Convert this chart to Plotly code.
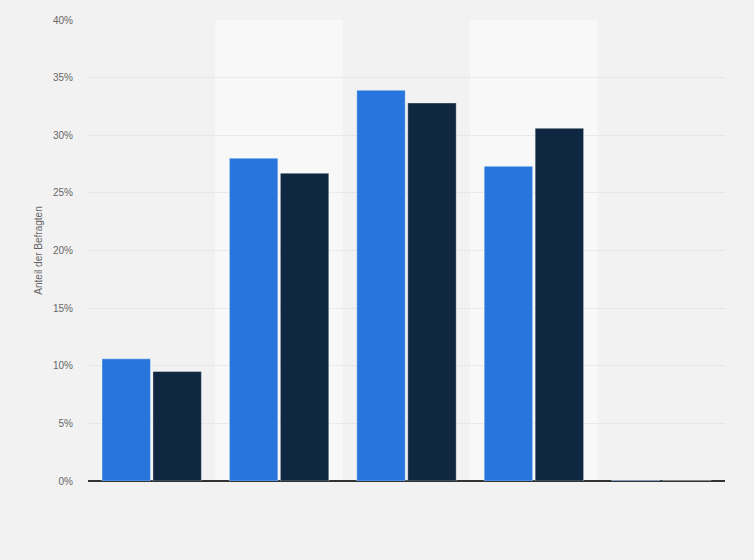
import plotly.graph_objects as go

# Kategorien (keine sichtbaren Beschriftungen im Original)
categories = ["A", "B", "C", "D", "E"]
series_1 = [10.6, 28.0, 33.9, 27.3, 0.05]
series_2 = [9.5, 26.7, 32.8, 30.6, 0.05]
y_ticks = [0, 5, 10, 15, 20, 25, 30, 35, 40]
y_tick_labels = [f"{v}%" for v in y_ticks]

fig = go.Figure()
fig.add_trace(go.Bar(
    x=categories, y=series_1, name="Serie 1",
    marker={"color": "#2876dd", "line": {"color": "rgba(255,255,255,0.35)", "width": 1}},
))
fig.add_trace(go.Bar(
    x=categories, y=series_2, name="Serie 2",
    marker={"color": "#0f2741", "line": {"color": "rgba(255,255,255,0.35)", "width": 1}},
))

# helle Hintergrundstreifen für jede zweite Kategorie
for i in (1, 3):
    fig.add_shape(
        type="rect", xref="x", yref="paper",
        x0=i - 0.5, x1=i + 0.5, y0=0, y1=1,
        fillcolor="#f8f8f8", line={"width": 0}, layer="below",
    )

fig.update_layout(
    width=754,
    height=560,
    margin={"l": 88, "r": 29, "t": 20, "b": 79},
    paper_bgcolor="#f2f2f2",
    plot_bgcolor="#f2f2f2",
    barmode="group",
    bargap=0.2,
    bargroupgap=0.05,
    showlegend=False,
    font={"family": "Arial, Liberation Sans, sans-serif", "size": 10, "color": "#666666"},
    xaxis={
        "showticklabels": False,
        "showgrid": False,
        "zeroline": False,
        "showline": False,
        "ticks": "",
    },
    yaxis={
        "range": [0, 40],
        "tickvals": y_ticks,
        "ticktext": y_tick_labels,
        "showgrid": True,
        "gridcolor": "#dcdcdc",
        "griddash": "1px,1px",
        "gridwidth": 1,
        "zeroline": True,
        "zerolinecolor": "#333333",
        "zerolinewidth": 2,
        "ticks": "",
        "ticklabelstandoff": 14,
        "title": {"text": "Anteil der Befragten", "font": {"size": 10, "color": "#666666"}, "standoff": 8},
    },
)

fig.write_html(
    "out.html",
    config={"displayModeBar": False},
    post_script="document.body.style.margin='0';document.body.style.background='#f2f2f2';",
)
